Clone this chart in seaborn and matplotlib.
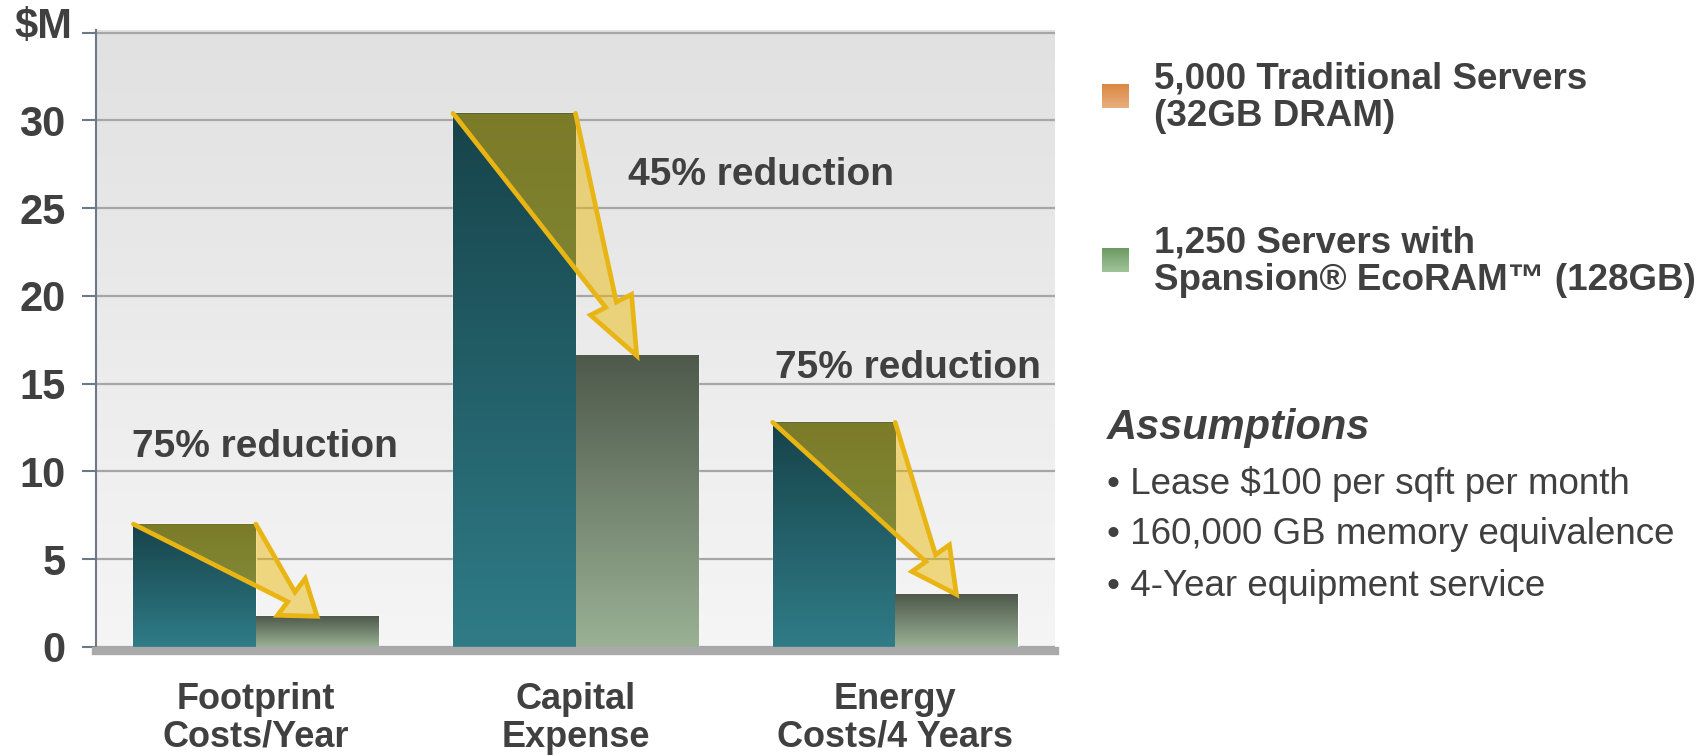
import numpy as np
import pandas as pd
import matplotlib
matplotlib.use("Agg")
import matplotlib.pyplot as plt
import seaborn as sns
from matplotlib.colors import LinearSegmentedColormap
from matplotlib.patches import Polygon

# chart data
categories = ["Footprint\nCosts/Year", "Capital\nExpense", "Energy\nCosts/4 Years"]
traditional = [7.0, 30.4, 12.8]
ecoram = [1.75, 16.6, 3.0]
series = ["5,000 Traditional Servers\n(32GB DRAM)",
          "1,250 Servers with\nSpansion® EcoRAM™ (128GB)"]
reductions = ["75% reduction", "45% reduction", "75% reduction"]
y_ticks = [0, 5, 10, 15, 20, 25, 30, 35]
y_labels = ["0", "5", "10", "15", "20", "25", "30", ""]
assumptions = ["• Lease $100 per sqft per month",
               "• 160,000 GB memory equivalence",
               "• 4-Year equipment service"]

TEXT = "#404040"
W, H = 1702, 756

sns.set_theme(style="white")
plt.rcParams["font.family"] = ["Liberation Sans", "DejaVu Sans"]

df = pd.DataFrame({
    "category": categories * 2,
    "value": traditional + ecoram,
    "series": [series[0]] * 3 + [series[1]] * 3,
})

fig = plt.figure(figsize=(W / 100, H / 100), dpi=100)
ax = fig.add_axes([96 / W, 1 - 647 / H, (1055 - 96) / W, (647 - 30) / H])

sns.barplot(data=df, x="category", y="value", hue="series", order=categories,
            hue_order=series, palette=["#256470", "#75907A"], width=0.766,
            legend=False, ax=ax, zorder=2, errorbar=None)


def gradient_fill(ax, patch, top, bottom, z):
    x0, y0 = patch.get_x(), patch.get_y()
    w, h = patch.get_width(), patch.get_height()
    cmap = LinearSegmentedColormap.from_list("g", [bottom, top])
    grad = np.linspace(0, 1, 256).reshape(-1, 1)
    ax.imshow(grad, extent=[x0, x0 + w, y0, y0 + h], origin="lower",
              aspect="auto", cmap=cmap, zorder=z)


bars_old = list(ax.containers[0])
bars_new = list(ax.containers[1])
for p in bars_old:
    gradient_fill(ax, p, "#17434A", "#2F7C87", 2.1)
for p in bars_new:
    gradient_fill(ax, p, "#4E594B", "#9AB195", 2.1)

# plot background gradient
bg = LinearSegmentedColormap.from_list("bg", ["#F5F5F5", "#E1E1E1"])
ax.imshow(np.linspace(0, 1, 256).reshape(-1, 1), extent=(0, 1, 0, 1),
          transform=ax.transAxes, origin="lower", aspect="auto", cmap=bg, zorder=-1)

ax.set_xlim(-0.5, 2.5)
ax.set_ylim(0, 35.15)
ax.set_yticks(y_ticks)
ax.set_yticklabels(y_labels)
ax.yaxis.grid(True, color="#A6A6A6", lw=1.6)
ax.xaxis.grid(False)
ax.set_axisbelow(True)
ax.set_xlabel("")
ax.set_ylabel("")

for s in ["top", "right"]:
    ax.spines[s].set_visible(False)
ax.spines["left"].set_color("#6D7889")
ax.spines["left"].set_linewidth(1.5)
ax.spines["bottom"].set_color("#A9A9A9")
ax.spines["bottom"].set_linewidth(6)
ax.spines["bottom"].set_position(("outward", 3))

ax.tick_params(axis="y", left=True, length=10, width=1.5, color="#6D7889",
               pad=12, labelsize=30, labelcolor=TEXT)
ax.tick_params(axis="x", bottom=False, length=0, pad=22, labelsize=26, labelcolor=TEXT)
for lab in ax.get_yticklabels():
    lab.set_fontweight("bold")
for lab in ax.get_xticklabels():
    lab.set_fontweight("bold")
    lab.set_linespacing(1.12)

# reduction arrows, built in pixel space from bar tops
fig.canvas.draw()
to_px = ax.transData
to_data = ax.transData.inverted()
for p_old, p_new in zip(bars_old, bars_new):
    p1 = to_px.transform((p_old.get_x(), p_old.get_height()))
    p2 = to_px.transform((p_old.get_x() + p_old.get_width(), p_old.get_height()))
    tip = to_px.transform((p_new.get_x() + p_new.get_width() / 2, p_new.get_height()))
    mid = (p1 + p2) / 2
    d = tip - mid
    dist = np.hypot(*d)
    u = d / dist
    n = np.array([-u[1], u[0]])
    head = tip - 0.21 * dist * u
    notch_l, notch_r = head - 6 * n, head + 6 * n
    barb_l, barb_r = head - 23 * n, head + 23 * n
    pts = np.array([p1, notch_l, barb_l, tip, barb_r, notch_r, p2])
    pts = to_data.transform(pts)
    ax.add_patch(Polygon(pts, closed=True, facecolor="#EAB803", alpha=0.48,
                         edgecolor="none", zorder=3))
    ax.plot(pts[:, 0], pts[:, 1], color="#E8B514", lw=3.4,
            solid_joinstyle="miter", zorder=4)

label_pos = [(0.03, 11.4), (1.58, 26.9), (2.04, 15.9)]
for txt, (x, y) in zip(reductions, label_pos):
    ax.text(x, y, txt, ha="center", va="center", fontsize=28,
            fontweight="bold", color=TEXT, zorder=5)

fig.text(72 / W, 1 - 27 / H, "$M", ha="right", va="center", fontsize=30,
         fontweight="bold", color=TEXT)

# legend
swatches = [("#DA8840", "#E9AE7E", 96), ("#6C9A62", "#A0C499", 260)]
for (top, bottom, yc), label in zip(swatches, series):
    sw = fig.add_axes([1102 / W, 1 - (yc + 12) / H, 27 / W, 24 / H])
    sw.imshow(np.linspace(0, 1, 64).reshape(-1, 1), origin="lower", aspect="auto",
              cmap=LinearSegmentedColormap.from_list("s", [bottom, top]))
    sw.axis("off")
    fig.text(1154 / W, 1 - (yc + 2) / H, label, ha="left", va="center",
             fontsize=26.5, fontweight="bold", color=TEXT, linespacing=1.08)

fig.text(1107 / W, 1 - 428 / H, "Assumptions", ha="left", va="center",
         fontsize=30, fontweight="bold", fontstyle="italic", color=TEXT)
for i, line in enumerate(assumptions):
    fig.text(1107 / W, 1 - (484 + 51 * i) / H, line, ha="left", va="center",
             fontsize=26.5, color=TEXT)

fig.savefig("out.png", dpi=100)
